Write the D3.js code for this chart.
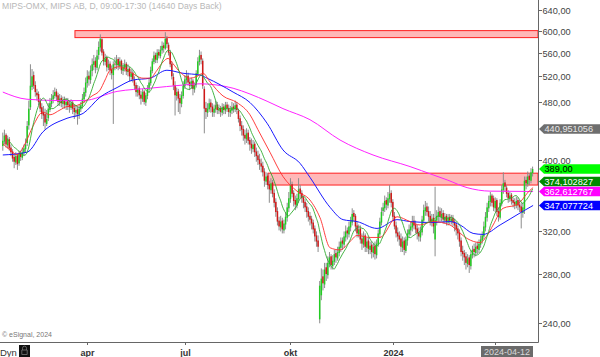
<!DOCTYPE html>
<html><head><meta charset="utf-8">
<script src="https://cdn.jsdelivr.net/npm/d3@7"></script>
<style>body{margin:0;background:#fff;overflow:hidden}svg{display:block;font-family:"Liberation Sans",Arial,sans-serif}</style>
</head><body><svg id="c" width="600" height="357"></svg>
<script>
// ---- data ----
const open=[418,424,433,419,427,416,411,404,397,406,396,409,403,409,414,422,446,472,503,522,
506,494,492,482,472,465,462,448,456,468,477,484,489,496,490,479,486,477,484,475,
481,476,471,479,471,464,469,461,469,474,484,494,509,521,514,529,539,546,534,556,
569,584,562,544,552,534,541,532,522,541,539,549,537,546,529,534,541,527,533,519,
526,514,506,494,501,491,484,496,479,489,499,509,529,544,556,547,561,554,564,573,
567,586,574,561,541,519,506,489,496,486,477,489,504,514,521,511,504,513,499,506,
524,544,556,546,500,471,464,469,479,473,464,469,476,467,471,464,473,467,476,471,
464,467,473,469,476,467,456,446,441,433,427,436,426,421,414,421,411,406,401,396,
393,386,374,381,371,364,373,361,351,341,331,324,331,321,327,334,344,354,371,361,
353,347,354,366,361,356,351,346,341,336,333,329,323,316,311,243,262,278,271,286,
279,289,296,287,291,299,294,299,304,311,307,314,321,317,324,329,339,336,326,317,
323,313,307,316,304,311,302,307,299,306,297,307,317,329,341,344,353,347,354,361,
351,336,326,319,316,313,304,311,301,311,317,321,324,331,327,323,319,314,319,331,
341,346,341,336,329,334,312,331,335,341,334,339,331,336,329,335,330,334,330,327,
323,319,311,301,299,296,289,295,287,297,303,299,306,302,307,311,315,324,334,344,
351,358,355,344,353,341,334,349,364,373,367,361,354,359,353,351,347,353,348,346,
339,343,376,371,381,375,384];
const high=[436,440,435,432,430,420,414,408,410,408,412,412,416,420,428,452,482,540,532,528,
512,500,496,486,478,474,470,468,478,486,492,498,502,500,494,492,490,488,488,486,
486,482,484,482,476,475,473,476,480,492,502,518,530,528,538,550,556,552,565,580,
593,586,566,558,555,548,545,538,545,552,556,552,552,548,542,548,544,540,536,532,
530,520,510,506,504,497,500,498,494,506,516,536,550,562,560,566,566,572,580,578,
597,590,578,565,545,525,512,502,500,492,496,512,522,530,526,516,518,516,510,530,
552,565,562,550,504,480,478,485,484,478,476,482,480,476,474,478,477,480,480,476,
474,480,478,482,480,470,460,452,446,440,442,440,430,428,426,424,416,412,408,402,
398,390,385,384,375,378,376,365,355,345,335,336,334,332,340,350,362,378,374,364,
358,360,378,370,364,358,354,350,345,340,336,332,326,320,316,274,285,284,290,290,
296,300,298,297,302,302,305,310,314,314,320,326,324,330,335,344,342,338,330,327,
326,318,320,318,314,314,310,310,308,310,312,322,334,345,350,358,356,362,370,364,
354,340,330,324,320,318,315,314,315,322,327,330,336,336,331,327,324,325,336,348,
352,350,346,341,338,338,368,342,346,345,344,342,339,338,338,338,337,337,333,330,
326,322,314,306,302,300,298,297,302,306,308,309,310,312,316,320,330,340,350,358,
362,360,358,356,355,345,354,370,385,376,370,364,362,361,356,355,357,356,353,350,
350,380,380,386,384,390,392];
const low=[412,420,416,415,412,405,398,390,394,388,393,399,400,405,410,418,440,468,498,500,
488,482,475,465,455,445,440,445,452,465,472,478,485,482,474,474,472,470,470,468,
468,464,468,462,455,458,447,455,465,470,478,488,502,505,508,520,530,525,530,548,
562,555,538,538,528,530,522,515,448,530,532,530,532,524,522,528,522,520,512,512,
510,498,488,488,484,476,480,476,474,484,494,505,525,540,542,542,550,550,558,560,
565,568,555,535,515,498,460,482,465,462,472,485,500,508,505,498,500,490,494,502,
520,538,540,500,435,455,458,465,464,458,458,464,462,462,458,460,462,462,465,458,
458,462,464,465,462,450,438,432,425,420,422,420,412,408,410,404,398,394,388,385,
380,368,370,365,350,360,356,345,335,326,321,320,318,318,322,330,340,350,356,346,
342,344,350,355,350,344,340,334,330,326,322,318,310,305,300,240,258,266,268,274,
276,286,284,284,288,290,292,296,300,302,304,310,312,314,320,326,330,320,314,314,
308,302,304,300,300,298,298,294,295,293,294,305,314,326,336,340,342,344,350,345,
332,322,314,310,306,300,300,297,299,306,314,316,320,322,318,312,310,310,316,328,
336,336,330,326,325,318,296,326,330,330,330,328,328,326,326,327,327,325,320,316,
312,305,296,292,288,284,286,281,284,294,295,296,298,299,304,308,312,320,330,340,
346,346,341,340,336,330,332,346,360,362,356,350,351,348,345,343,344,342,340,323,
334,338,365,368,370,372,380];
const close=[425,432,420,428,415,410,402,398,405,395,408,404,410,415,420,445,470,505,520,505,
495,490,480,470,462,460,450,455,470,478,485,490,495,488,480,485,478,483,476,480,
475,472,478,470,465,468,462,470,475,485,495,510,520,515,530,540,545,535,555,570,
585,560,545,550,535,540,530,525,540,540,548,538,545,530,535,540,528,532,520,525,
515,505,495,500,490,485,495,480,490,500,510,530,545,555,548,560,555,565,572,568,
585,575,560,540,520,505,490,495,485,478,490,505,515,520,510,505,512,500,505,525,
545,555,548,505,470,465,470,478,472,465,470,475,468,470,465,472,468,475,470,465,
468,472,470,475,468,455,445,440,432,428,435,425,420,415,420,410,405,400,395,392,
385,375,380,370,365,372,360,350,340,330,325,330,322,328,335,345,355,370,360,352,
348,355,365,360,355,350,345,340,335,332,328,322,315,310,305,270,276,272,284,280,
290,295,288,292,298,295,300,305,310,308,315,320,318,325,330,338,335,325,318,322,
312,308,315,305,310,303,306,300,305,298,308,318,330,340,345,352,348,355,360,350,
335,325,318,315,312,305,310,302,312,318,322,325,330,326,322,318,315,320,332,342,
345,340,335,330,333,325,332,336,340,335,338,332,335,330,334,331,333,329,326,322,
318,310,300,298,295,290,294,288,298,302,300,305,303,308,312,316,325,335,345,352,
358,350,345,352,340,335,350,365,372,368,360,355,358,352,350,348,352,347,345,340,
345,375,372,380,376,385,389];

// moving averages: [bar index, value]
const maRed=[[0,421],[4.4,413],[8.7,407],[13.7,421],[18.6,445],[24.7,465],[29,461],[35.2,468],[39.5,473],[44.4,474],[49.4,479],[54.9,489],[59.8,498],[62.9,514],[66,530],[72.1,536],[78.3,527],[86.3,517],[90.6,517],[94.9,530],[98.6,544],[101.7,550],[104.7,541],[109,527],[115.2,517],[119.5,520],[123.2,525],[127.5,511],[135.5,489],[144.1,479],[152.1,461],[157,440],[164.4,410],[172.4,380],[181,363],[189,353],[195.2,334],[201.4,304],[207.5,302],[213.7,310],[218,316],[226,314],[232.1,314],[242.6,335],[250.6,330],[256.7,326.5],[264.7,330],[275.2,326.5],[280.1,320],[285.7,313],[293.7,309],[298,316],[301.7,326.5],[307.8,344],[316.4,348],[324.4,364],[326.3,367]];
const maBlue=[[0,406.5],[14.9,410],[24.7,437],[39.5,456],[49.4,463],[59.8,487],[70.3,502],[80.1,514],[90.6,517],[101,530],[110.9,525],[121.4,522],[125.7,517],[141.7,495],[152.1,479],[162.6,449],[172.4,413],[182.9,396],[189,379],[201.4,345],[209.4,332],[218,330],[230.3,323],[242.6,332],[250.6,330],[264.7,329],[275.2,330],[281.4,326.5],[289.4,318],[295.5,317],[306,326.5],[318.3,339],[326.3,347.08]];
const maMagenta=[[0,495],[14.9,484],[35.2,482],[49.4,482],[70.3,496],[90.6,501],[110.9,506],[121.4,508],[131.8,506],[141.7,501],[152.1,492],[162.6,481],[172.4,470],[189,454],[207.5,426],[227.8,406.5],[250.6,392],[264.7,382],[273.4,376],[285.7,367],[299.8,363],[326.3,362.61]];
const greenPeriod=10;

// zones
const zoneStart=[44.4,163.2];
const zoneTop=[600,384];
const zoneBottom=[587,370];

// axis (440 and 360 sit under the value tags, so no label is shown there)
const yTicks=[640,600,560,520,480,400,320,280,240];
const xTickIdx=[52,112,177,240,303];
const xTickLabels=["apr","jul","okt","2024",""];
const dateLabel="2024-04-12";

// value tags
const tagValues=[440.951056,389.00,374.102827,362.612767,347.077724];
const tagTexts=["440,951056","389,00","374,102827","362,612767","347,077724"];
const tagFill=["#6e6e6e","#00ff00","#008a00","#ff00ff","#0000ff"];
const tagInk=["#e8e8e8","#000000","#ffffff","#ffffff","#ffffff"];

// ---- drawing ----
const svg=d3.select("#c");
const W=600,H=357,plotR=538,plotB=342;
const x=d3.scaleLinear().domain([0,close.length-1]).range([2.8,532.6]);
const y=d3.scaleLog().domain([240,640]).range([323.3,10]);

// title
svg.append("text").attr("x",2).attr("y",9).attr("font-size",8.6).attr("fill","#b8b8b8")
  .text("MIPS-OMX, MIPS AB, D, 09:00-17:30 (14640 Days Back)");

// zones
zoneStart.forEach((s,k)=>{
  svg.append("rect").attr("x",x(s)).attr("y",y(zoneTop[k]))
    .attr("width",plotR-x(s)).attr("height",y(zoneBottom[k])-y(zoneTop[k]))
    .attr("fill","#ffb8b8").attr("stroke","#ff2020").attr("stroke-width",1);
});

// candles
const g=svg.append("g");
close.forEach((c,i)=>{
  const o=open[i],h=Math.max(high[i],o,c),l=Math.min(low[i],o,c);
  const cx=x(i);
  g.append("line").attr("x1",cx).attr("x2",cx).attr("y1",y(h)).attr("y2",y(l))
    .attr("stroke","#8c8c8c").attr("stroke-width",1);
  const top=y(Math.max(o,c)),bot=y(Math.min(o,c));
  g.append("rect").attr("x",cx-0.75).attr("width",1.5)
    .attr("y",top).attr("height",Math.max(0.8,bot-top))
    .attr("fill",c>=o?"#22cc22":"#d01818");
});

// moving averages
const line=d3.line().x(d=>x(d[0])).y(d=>y(d[1])).curve(d3.curveMonotoneX);
svg.append("path").datum(maMagenta).attr("d",line).attr("fill","none").attr("stroke","#ff22ff").attr("stroke-width",1);
svg.append("path").datum(maBlue).attr("d",line).attr("fill","none").attr("stroke","#1a1aff").attr("stroke-width",1);
svg.append("path").datum(maRed).attr("d",line).attr("fill","none").attr("stroke","#ff2a2a").attr("stroke-width",0.9);
const greenPts=close.map((c,i)=>{
  const s=Math.max(0,i-greenPeriod+1);
  return [i,d3.mean(close.slice(s,i+1))];
}).slice(3);
svg.append("path").datum(greenPts).attr("d",line).attr("fill","none").attr("stroke","#30aa30").attr("stroke-width",0.9);

// frame
svg.append("line").attr("x1",plotR+0.5).attr("x2",plotR+0.5).attr("y1",0).attr("y2",plotB+0.5).attr("stroke","#666");
svg.append("line").attr("x1",0).attr("x2",plotR+0.5).attr("y1",plotB+0.5).attr("y2",plotB+0.5).attr("stroke","#666");

// right axis
const fmt=v=>v.toFixed(2).replace(".",",");
yTicks.forEach(v=>{
  const yy=Math.round(y(v))+0.5;
  svg.append("line").attr("x1",plotR).attr("x2",plotR+4).attr("y1",yy).attr("y2",yy).attr("stroke","#666");
  svg.append("text").attr("x",plotR+4.5).attr("y",yy+3.2).attr("font-size",9.2).attr("fill","#444").text(fmt(v));
});

// bottom axis
xTickIdx.forEach((t,k)=>{
  const xx=Math.round(x(t))+0.5;
  svg.append("line").attr("x1",xx).attr("x2",xx).attr("y1",plotB).attr("y2",plotB+3).attr("stroke","#666");
  if(xTickLabels[k]) svg.append("text").attr("x",xx).attr("y",355.5).attr("text-anchor","middle")
    .attr("font-size",9).attr("font-weight","bold").attr("fill","#333").text(xTickLabels[k]);
});
svg.append("rect").attr("x",481).attr("y",346).attr("width",52).attr("height",11).attr("fill","#6b6b6b");
svg.append("text").attr("x",507).attr("y",355.3).attr("text-anchor","middle").attr("font-size",9).attr("fill","#d8d8d8").text(dateLabel);

// Dyn + lock icon
svg.append("text").attr("x",0).attr("y",355.5).attr("font-size",9.5).attr("fill","#333").text("Dyn");
svg.append("rect").attr("x",19).attr("y",345).attr("width",11).attr("height",12).attr("fill","#111");
svg.append("path").attr("d","M22.5 350 v-1.8 a2 2 0 0 1 4 0 v1.8 M21.8 350 h5.4 v4.5 h-5.4 z").attr("fill","none").attr("stroke","#777").attr("stroke-width",0.8);

// copyright
svg.append("text").attr("x",2).attr("y",337).attr("font-size",7).attr("fill","#777").text("\u00a9 eSignal, 2024");

// value tags
tagValues.forEach((v,k)=>{
  const cy=y(v), hh=4.8;
  svg.append("path").attr("d",`M${plotR+1},${cy} L${plotR+6},${cy-hh} L${W},${cy-hh} L${W},${cy+hh} L${plotR+6},${cy+hh} Z`)
    .attr("fill",tagFill[k]);
  svg.append("text").attr("x",plotR+6.5).attr("y",cy+3.3).attr("font-size",9.2).attr("fill",tagInk[k]).text(tagTexts[k]);
});
</script>
</body></html>
